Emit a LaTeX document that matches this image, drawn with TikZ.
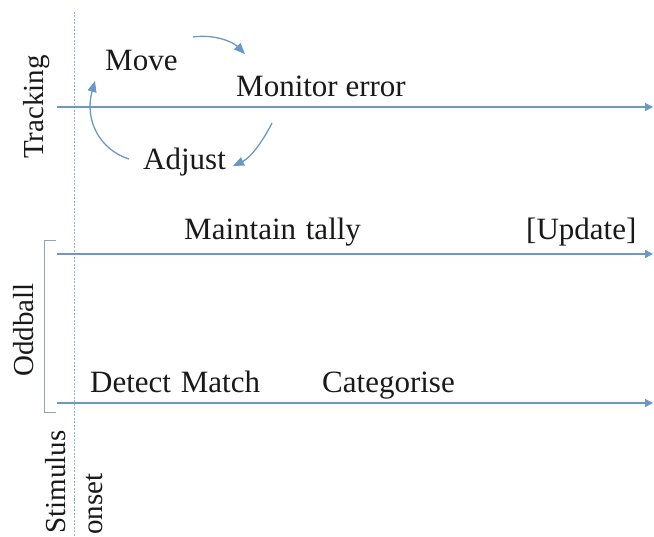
\documentclass[tikz,border=0pt]{standalone}
\usepackage{fontspec}
\setmainfont{Liberation Serif}
\usetikzlibrary{arrows.meta}
\definecolor{lineblue}{HTML}{6A9AC4}
\definecolor{dotblue}{HTML}{8DB3D6}
\definecolor{brackgray}{HTML}{8FA3B5}
\begin{document}
\begin{tikzpicture}[x=1pt,y=-1pt,
  lbl/.style={font=\fontsize{31}{37}\selectfont, inner sep=0pt, anchor=base west, text=black!90},
  side/.style={font=\fontsize{29}{35}\selectfont, inner sep=0pt, rotate=90, anchor=base, text=black!90},
  timeline/.style={draw=lineblue, line width=1.3pt, -{Triangle[length=8pt,width=8pt]}},
  loop/.style={draw=lineblue, line width=1.3pt, -{Triangle[length=11pt,width=9pt]}},
  onsetline/.style={draw=dotblue, line width=1pt, dash pattern=on 2pt off 1.5pt},
  brack/.style={draw=brackgray, line width=1pt}]
\useasboundingbox (0,0) rectangle (654,537);
% stimulus onset line
\coordinate (onT) at (74,12);
\coordinate (onB) at (74,537);
\draw[onsetline] (onT) -- (onB);
% timelines
\coordinate (t1s) at (57,107); \coordinate (t1e) at (653,107);
\coordinate (t2s) at (57,254); \coordinate (t2e) at (653,254);
\coordinate (t3s) at (57,403); \coordinate (t3e) at (653,403);
\draw[timeline] (t1s) -- (t1e);
\draw[timeline] (t2s) -- (t2e);
\draw[timeline] (t3s) -- (t3e);
% bracket
\coordinate (b1) at (56,241); \coordinate (b2) at (44,241);
\coordinate (b3) at (44,413); \coordinate (b4) at (56,413);
\draw[brack] (b1) -- (b2) -- (b3) -- (b4);
% side labels
\node[side] (tracking) at (43,107) {Tracking};
\node[side] (oddball) at (34,330) {Oddball};
\node[side] (stim) at (65,482) {Stimulus};
\node[side] (onset) at (102,504) {onset};
% text labels
\node[lbl] (move) at (105,71) {Move};
\node[lbl] (monitor) at (236,97) {Monitor error};
\node[lbl] (adjust) at (143,170) {Adjust};
\node[lbl] (tally) at (184,240) {Maintain\hspace{2pt} tally};
\node[lbl] (update) at (526,240) {[Update]};
\node[lbl] (detect) at (90,393) {Detect\hspace{2pt} Match};
\node[lbl] (categ) at (322,393) {Categorise};
% loop arrows
\coordinate (a1s) at (193,37); \coordinate (a1e) at (245,54);
\coordinate (a2s) at (272,123); \coordinate (a2e) at (233,166);
\coordinate (a3s) at (129,159); \coordinate (a3e) at (95,81);
\draw[loop] (a1s) .. controls (215,34) and (233,42) .. (a1e);
\draw[loop] (a2s) .. controls (262,143) and (250,158) .. (a2e);
\draw[loop] (a3s) .. controls (100,150) and (84,120) .. (a3e);
\end{tikzpicture}
\end{document}
